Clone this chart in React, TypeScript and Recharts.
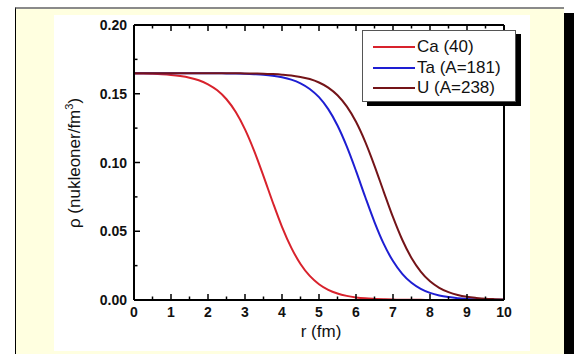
import { LineChart, Line, XAxis, YAxis, Legend, Label } from 'recharts'

// radius in fm, density in nucleons/fm^3
const rValues = [
  0, 0.25, 0.5, 0.75, 1, 1.25, 1.5, 1.75, 2, 2.25, 2.5, 2.75, 3, 3.25, 3.5, 3.75, 4, 4.25, 4.5, 4.75,
  5, 5.25, 5.5, 5.75, 6, 6.25, 6.5, 6.75, 7, 7.25, 7.5, 7.75, 8, 8.25, 8.5, 8.75, 9, 9.25, 9.5, 9.75, 10,
]
const caValues = [
  0.1648, 0.1647, 0.1645, 0.1642, 0.1637, 0.1629, 0.1617, 0.1598, 0.1569, 0.1525, 0.146, 0.1367, 0.1241,
  0.1083, 0.0901, 0.0711, 0.0532, 0.0381, 0.0262, 0.0175, 0.0115, 0.0074, 0.0047, 0.003, 0.0019, 0.0012,
  0.0008, 0.0005, 0.0003, 0.0002, 0.0001, 0.0001, 0, 0, 0, 0, 0, 0, 0, 0, 0,
]
const taValues = [
  0.165, 0.165, 0.165, 0.165, 0.165, 0.165, 0.165, 0.165, 0.165, 0.1649, 0.1648, 0.1647, 0.1645, 0.1642,
  0.1638, 0.1631, 0.162, 0.1603, 0.1576, 0.1535, 0.1475, 0.1388, 0.1269, 0.1117, 0.0939, 0.0749, 0.0567,
  0.0408, 0.0283, 0.019, 0.0125, 0.0081, 0.0052, 0.0033, 0.0021, 0.0013, 0.0008, 0.0005, 0.0003, 0.0002, 0.0001,
]
const uValues = [
  0.165, 0.165, 0.165, 0.165, 0.165, 0.165, 0.165, 0.165, 0.165, 0.165, 0.165, 0.1649, 0.1648, 0.1647,
  0.1646, 0.1643, 0.1639, 0.1633, 0.1622, 0.1607, 0.1582, 0.1545, 0.1489, 0.1408, 0.1296, 0.115, 0.0976,
  0.0787, 0.0602, 0.0438, 0.0306, 0.0207, 0.0136, 0.0089, 0.0057, 0.0036, 0.0023, 0.0015, 0.0009, 0.0006, 0.0004,
]

const seriesNames = ['Ca (40)', 'Ta (A=181)', 'U (A=238)']
const seriesColors = ['#D8222C', '#1E1ED2', '#741418']

const xTicks = [0, 0.5, 1, 1.5, 2, 2.5, 3, 3.5, 4, 4.5, 5, 5.5, 6, 6.5, 7, 7.5, 8, 8.5, 9, 9.5, 10]
const yTicks = [0, 0.025, 0.05, 0.075, 0.1, 0.125, 0.15, 0.175, 0.2]

const data = rValues.map((r, i) => ({ r, ca: caValues[i], ta: taValues[i], u: uValues[i] }))

const FONT = 'Arial, "Liberation Sans", Helvetica, sans-serif'
const isMajorX = (v: number) => Number.isInteger(v)
const isMajorY = (v: number) => Math.round(v * 1000) % 50 === 0

function BottomTick({ x, y, payload }: any) {
  const major = isMajorX(payload.value)
  return (
    <g>
      <line x1={x} x2={x} y1={y} y2={y - (major ? 6 : 3.5)} stroke="#000" strokeWidth={1.5} />
      {major && (
        <text x={x} y={y + 17} textAnchor="middle" fontSize={14} fontWeight="bold" fill="#111" fontFamily={FONT}>
          {payload.value}
        </text>
      )}
    </g>
  )
}

function TopTick({ x, y, payload }: any) {
  const major = isMajorX(payload.value)
  return <line x1={x} x2={x} y1={y} y2={y + (major ? 6 : 3.5)} stroke="#000" strokeWidth={1.5} />
}

function LeftTick({ x, y, payload }: any) {
  const major = isMajorY(payload.value)
  return (
    <g>
      <line x1={x} x2={x + (major ? 6 : 3.5)} y1={y} y2={y} stroke="#000" strokeWidth={1.5} />
      {major && (
        <text x={x - 7} y={y + 5} textAnchor="end" fontSize={14} fontWeight="bold" fill="#111" fontFamily={FONT}>
          {payload.value.toFixed(2)}
        </text>
      )}
    </g>
  )
}

function RightTick({ x, y, payload }: any) {
  const major = isMajorY(payload.value)
  return <line x1={x} x2={x - (major ? 6 : 3.5)} y1={y} y2={y} stroke="#000" strokeWidth={1.5} />
}

function LegendBox() {
  return (
    <div
      style={{
        width: 154,
        height: 72,
        boxSizing: 'border-box',
        background: '#fff',
        border: '1px solid #555',
        boxShadow: '5px 4px 0 #000',
        paddingTop: 6,
        paddingLeft: 10,
        fontFamily: FONT,
        fontSize: 17,
        color: '#111',
      }}
    >
      {seriesNames.map((name, i) => (
        <div key={name} style={{ display: 'flex', alignItems: 'center', height: 20.5 }}>
          <svg width={42} height={4} style={{ marginRight: 2 }}>
            <line x1={0} x2={42} y1={2} y2={2} stroke={seriesColors[i]} strokeWidth={2} />
          </svg>
          <span style={{ lineHeight: '20px' }}>{name}</span>
        </div>
      ))}
    </div>
  )
}

export default function App() {
  return (
    <div style={{ position: 'absolute', left: 0, top: 0, width: 574, height: 354, overflow: 'hidden', background: '#fff' }}>
      <div style={{ position: 'absolute', left: 15, top: 7, width: 549, height: 350, background: '#FFFFE0', borderTop: '2px solid #8a8a8a', borderLeft: '1px solid #000', boxSizing: 'border-box' }} />
      <div style={{ position: 'absolute', left: 564, top: 13, width: 10, height: 341, background: '#000' }} />
      <div style={{ position: 'absolute', left: 54, top: 15, width: 476, height: 336, background: '#fff' }} />
      <div style={{ position: 'absolute', left: 0, top: 0 }}>
        <LineChart width={574} height={354} data={data} margin={{ top: 15, right: 60, bottom: 24, left: 94 }}>
          <XAxis
            dataKey="r"
            type="number"
            domain={[0, 10]}
            ticks={xTicks}
            interval={0}
            tickSize={0}
            tickMargin={0}
            height={30}
            tick={<BottomTick />}
            axisLine={{ stroke: '#000', strokeWidth: 2 }}
          >
            <Label
              content={() => (
                <text x={321} y={337} textAnchor="middle" fontSize={17} fill="#111" fontFamily={FONT}>
                  r (fm)
                </text>
              )}
            />
          </XAxis>
          <XAxis
            xAxisId="top"
            orientation="top"
            dataKey="r"
            type="number"
            domain={[0, 10]}
            ticks={xTicks}
            interval={0}
            tickSize={0}
            tickMargin={0}
            height={10}
            tick={<TopTick />}
            axisLine={{ stroke: '#000', strokeWidth: 2 }}
          />
          <YAxis
            type="number"
            domain={[0, 0.2]}
            ticks={yTicks}
            interval={0}
            tickSize={0}
            tickMargin={0}
            width={40}
            tick={<LeftTick />}
            axisLine={{ stroke: '#000', strokeWidth: 2 }}
          >
            <Label
              content={() => (
                <text
                  x={80}
                  y={163}
                  transform="rotate(-90 80 163)"
                  textAnchor="middle"
                  fontSize={17}
                  fill="#111"
                  fontFamily={FONT}
                >
                  ρ (nukleoner/fm<tspan dy={-7} fontSize={11}>3</tspan>
                  <tspan dy={7}>)</tspan>
                </text>
              )}
            />
          </YAxis>
          <YAxis
            yAxisId="right"
            orientation="right"
            type="number"
            domain={[0, 0.2]}
            ticks={yTicks}
            interval={0}
            tickSize={0}
            tickMargin={0}
            width={10}
            tick={<RightTick />}
            axisLine={{ stroke: '#000', strokeWidth: 2 }}
          />
          <Legend
            layout="vertical"
            align="center"
            verticalAlign="middle"
            wrapperStyle={{ left: 362, top: 30, width: 160 }}
            content={<LegendBox />}
          />
          <Line type="monotone" dataKey="ca" name={seriesNames[0]} stroke={seriesColors[0]} strokeWidth={2} dot={false} isAnimationActive={false} />
          <Line type="monotone" dataKey="ta" name={seriesNames[1]} stroke={seriesColors[1]} strokeWidth={2} dot={false} isAnimationActive={false} />
          <Line type="monotone" dataKey="u" name={seriesNames[2]} stroke={seriesColors[2]} strokeWidth={2} dot={false} isAnimationActive={false} />
        </LineChart>
      </div>
    </div>
  )
}
